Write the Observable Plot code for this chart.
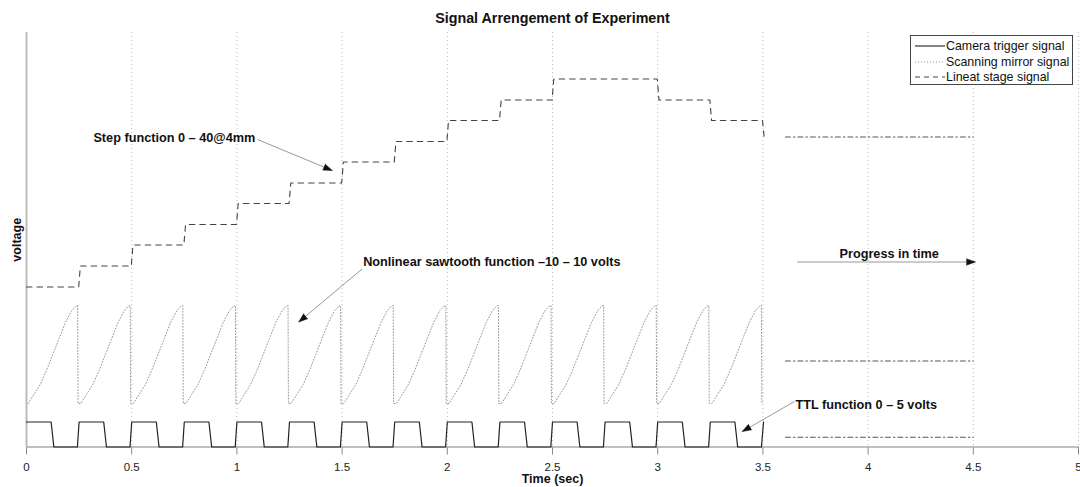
<!DOCTYPE html>
<html>
<head>
<meta charset="utf-8">
<script src="https://cdn.jsdelivr.net/npm/d3@7"></script>
<script src="https://cdn.jsdelivr.net/npm/@observablehq/plot@0.6"></script>
<style>
  html, body { margin: 0; padding: 0; background: #fff; }
  #wrap { position: relative; width: 1080px; height: 487px; font-family: "Liberation Sans", Arial, sans-serif; }
  #legend { position: absolute; left: 910px; top: 35px; width: 163px; height: 50px; border: 1px solid #444; background: #fff; font-size: 12.4px; color: #111; box-sizing: border-box; padding-top: 2px; }
  #legend .row { display: flex; align-items: center; height: 15.8px; white-space: nowrap; }
  #legend svg { margin-left: 4px; margin-right: 1px; }
  g[aria-label="x-axis tick"] { stroke: #888; }
  .tick line { stroke: #888; }
</style>
</head>
<body>
<div id="wrap"></div>
<script>
// ---- data ----
const titleText = "Signal Arrengement of Experiment";
const xLabel = "Time (sec)";
const yLabel = "voltage";
const tickValues = [0, 0.5, 1, 1.5, 2, 2.5, 3, 3.5, 4, 4.5, 5];
const tickLabels = ["0", "0.5", "1", "1.5", "2", "2.5", "3", "3.5", "4", "4.5", "5"];
const gridValues = [0.5, 1, 1.5, 2, 2.5, 3, 3.5, 4, 4.5, 5];

// Camera trigger (TTL) pulses
const pulseStarts = [0, 0.25, 0.5, 0.75, 1, 1.25, 1.5, 1.75, 2, 2.25, 2.5, 2.75, 3, 3.25];
const pulseOffsets = [-0.008, 0, 0.117, 0.13];
const pulseLevels = [0, 5, 5, 0];
const ttlTailTimes = [3.493, 3.503];
const ttlTailLevels = [0, 5];

// Scanning mirror (nonlinear sawtooth), one tooth profile
const toothStarts = [0, 0.25, 0.5, 0.75, 1, 1.25, 1.5, 1.75, 2, 2.25, 2.5, 2.75, 3, 3.25];
const toothPhase = [0.008, 0.035, 0.065, 0.095, 0.125, 0.155, 0.185, 0.215, 0.235, 0.243, 0.245];
const toothValue = [8.7, 10.5, 12.5, 15.3, 18.5, 21.7, 24.9, 27.3, 28.2, 28.3, 8.7];

// Linear stage steps
const stageStarts = [0, 0.25, 0.5, 0.75, 1, 1.25, 1.5, 1.75, 2, 2.25, 2.5, 3, 3.25];
const stageEnds   = [0.25, 0.5, 0.75, 1, 1.25, 1.5, 1.75, 2, 2.25, 2.5, 3, 3.25, 3.5];
const stageLevels = [32, 36.2, 40.4, 44.5, 48.7, 52.8, 57, 61.1, 65.3, 69.4, 73.6, 69.4, 65.3];
const stageFinal = 62;

// Held levels after the scan (dash-dot)
const holdLevels = [62, 17.2, 1.95];
const holdStart = 3.607;
const holdEnd = 4.5;

// Annotations
const notes = [
  {text: "Step function 0 \u2013 40@4mm", x: 0.318, y: 61.9},
  {text: "Nonlinear sawtooth function \u201310 \u2013 10 volts", x: 1.600, y: 37.0},
  {text: "TTL function 0 \u2013 5 volts", x: 3.655, y: 8.5},
  {text: "Progress in time", x: 3.864, y: 38.6}
];
const arrows = [
  {x1: 1.098, y1: 61.5, x2: 1.453, y2: 55.3},
  {x1: 1.595, y1: 35.6, x2: 1.294, y2: 25.0},
  {x1: 3.650, y1: 9.1, x2: 3.402, y2: 3.1},
  {x1: 3.663, y1: 37.0, x2: 4.510, y2: 37.0}
];

const legendItems = [
  {label: "Camera trigger signal", dash: null, color: "#222"},
  {label: "Scanning mirror signal", dash: "1,2", color: "#999"},
  {label: "Lineat stage signal", dash: "5,4", color: "#444"}
];

// ---- build tables ----
const ttl = [];
pulseStarts.forEach(s => {
  pulseOffsets.forEach((o, i) => {
    if (s + o >= 0) ttl.push({t: s + o, v: pulseLevels[i]});
  });
});
ttlTailTimes.forEach((t, i) => ttl.push({t, v: ttlTailLevels[i]}));

const saw = [];
toothStarts.forEach(s => toothPhase.forEach((p, i) => saw.push({t: s + p, v: toothValue[i]})));

const stage = [];
stageStarts.forEach((s, i) => {
  stage.push({t: i === 0 ? s : s + 0.006, v: stageLevels[i]});
  stage.push({t: stageEnds[i] - 0.002, v: stageLevels[i]});
});
stage.push({t: stageEnds[stageEnds.length - 1] + 0.006, v: stageFinal});

const holds = [];
holdLevels.forEach((v, k) => {
  holds.push({k, t: holdStart, v});
  holds.push({k, t: holdEnd, v});
});

// ---- plot ----
const W = 1080, H = 487, mL = 26, mR = 2, mT = 32, mB = 40.5;
const yTop = 82.9;
const xs = Plot.scale({x: {domain: [0, 5], range: [mL, W - mR]}});
const ys = Plot.scale({y: {domain: [0, yTop], range: [H - mB, mT]}});
arrows.forEach(a => {
  const dx = xs.apply(a.x2) - xs.apply(a.x1);
  const dy = ys.apply(a.y2) - ys.apply(a.y1);
  a.angle = Math.atan2(dx, -dy) * 180 / Math.PI;
});

const font = "Liberation Sans, Arial, sans-serif";
const chart = Plot.plot({
  width: W, height: H,
  marginLeft: mL, marginRight: mR, marginTop: mT, marginBottom: mB,
  style: {fontFamily: font, fontSize: "11.5px", color: "#222", background: "#fff"},
  x: {domain: [0, 5], ticks: tickValues, tickFormat: (d) => tickLabels[tickValues.indexOf(d)], tickSize: 8, tickPadding: 8, label: null},
  y: {domain: [0, yTop], axis: null},
  marks: [
    Plot.ruleX(gridValues, {stroke: "#bbb", strokeDasharray: "1,3"}),
    Plot.ruleX([0], {stroke: "#bbb", strokeWidth: 2}),
    Plot.ruleY([0], {stroke: "#aaa", strokeWidth: 1.5}),
    Plot.line(saw, {x: "t", y: "v", stroke: "#999", strokeWidth: 1, strokeDasharray: "1,2"}),
    Plot.line(stage, {x: "t", y: "v", stroke: "#444", strokeWidth: 1.1, strokeDasharray: "5.5,5"}),
    Plot.line(ttl, {x: "t", y: "v", stroke: "#222", strokeWidth: 1.2}),
    Plot.line(holds, {x: "t", y: "v", z: "k", stroke: "#555", strokeWidth: 1.1, strokeDasharray: "5,3,1.5,3"}),
    Plot.link(arrows, {x1: "x1", y1: "y1", x2: "x2", y2: "y2", stroke: "#999", strokeWidth: 1}),
    Plot.vector(arrows, {x: "x2", y: "y2", rotate: "angle", length: 9, r: 3.2, shape: "spike", anchor: "end", fill: "#111", stroke: "#111", strokeWidth: 0.5}),
    Plot.text(notes, {x: "x", y: "y", text: "text", textAnchor: "start", lineAnchor: "middle", fontWeight: "bold", fontSize: 12.7, fill: "#111"}),
    Plot.text([titleText], {frameAnchor: "top", dy: -14, lineAnchor: "middle", textAnchor: "middle", fontWeight: "bold", fontSize: 14.3, fill: "#111"}),
    Plot.text([xLabel], {frameAnchor: "bottom", dy: 32, lineAnchor: "middle", textAnchor: "middle", fontWeight: "bold", fontSize: 12.5, fill: "#111"}),
    Plot.text([yLabel], {frameAnchor: "left", dx: -10, rotate: -90, lineAnchor: "middle", textAnchor: "middle", fontWeight: "bold", fontSize: 12.5, fill: "#111"})
  ]
});
const wrap = document.getElementById("wrap");
wrap.appendChild(chart);

// legend
const legend = document.createElement("div");
legend.id = "legend";
legendItems.forEach(it => {
  const row = document.createElement("div");
  row.className = "row";
  const sw = d3.create("svg").attr("width", 30).attr("height", 10);
  sw.append("line").attr("x1", 0).attr("x2", 30).attr("y1", 5).attr("y2", 5)
    .attr("stroke", it.color).attr("stroke-width", 1.1)
    .attr("stroke-dasharray", it.dash);
  row.appendChild(sw.node());
  const span = document.createElement("span");
  span.textContent = it.label;
  row.appendChild(span);
  legend.appendChild(row);
});
wrap.appendChild(legend);
</script>
</body>
</html>
